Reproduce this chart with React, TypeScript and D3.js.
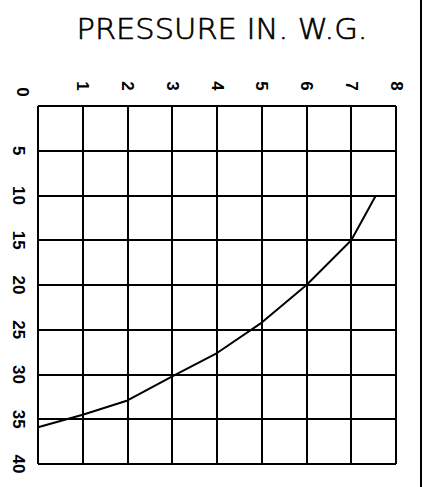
import { useEffect, useRef } from 'react';
import * as d3 from 'd3';

// pressure (in. w.g.) along the top, the other scale runs down the left side
const pressureTicks = [0, 1, 2, 3, 4, 5, 6, 7, 8];
const depthTicks = [0, 5, 10, 15, 20, 25, 30, 35, 40];
const curvePressure = [0, 1, 2, 3, 4, 5, 6, 7, 7.55];
const curveDepth = [35.9, 34.5, 32.9, 30.2, 27.6, 24.2, 20, 15, 10];
const title = 'PRESSURE  IN.  W.G.';

const App = () => {
    const svgRef = useRef<SVGSVGElement>(null);

    useEffect(() => {
        const width = 425
        const height = 487
        const margin = { top: 106, right: 29, bottom: 23, left: 38 }

        d3.select(svgRef.current).selectAll("*").remove();

        const svg = d3.select(svgRef.current)
            .attr("width", width)
            .attr("height", height)
            .style("position", "absolute")
            .style("left", 0)
            .style("top", 0)
            .style("background", "#fff")

        const x = d3.scaleLinear().domain([0, 8]).range([margin.left, width - margin.right])
        const y = d3.scaleLinear().domain([0, 40]).range([margin.top, height - margin.bottom])

        // title, thin monoline look
        svg.append("text")
            .attr("x", 222)
            .attr("y", 39)
            .attr("text-anchor", "middle")
            .attr("font-family", "DejaVu Sans")
            .attr("font-weight", 200)
            .attr("font-size", 28)
            .attr("textLength", 291)
            .attr("lengthAdjust", "spacingAndGlyphs")
            .attr("fill", "#000")
            .attr("stroke", "#000")
            .attr("stroke-width", 0.6)
            .text(title)

        // grid
        const grid = svg.append("g")
            .attr("stroke", "#000")
            .attr("stroke-width", 2)
            .attr("shape-rendering", "crispEdges")
        grid.selectAll("line.v")
            .data(pressureTicks)
            .enter()
            .append("line")
                .attr("class", "v")
                .attr("x1", d => x(d)).attr("x2", d => x(d))
                .attr("y1", y(0)).attr("y2", y(40))
        grid.selectAll("line.h")
            .data(depthTicks)
            .enter()
            .append("line")
                .attr("class", "h")
                .attr("x1", x(0)).attr("x2", x(8))
                .attr("y1", d => y(d)).attr("y2", d => y(d))

        // right border
        svg.append("line")
            .attr("x1", 421).attr("x2", 421)
            .attr("y1", 0).attr("y2", height)
            .attr("stroke", "#000")
            .attr("stroke-width", 2)

        // tick labels, rotated to read top to bottom
        const labelFont = (sel: any) => sel
            .attr("font-family", "Liberation Sans")
            .attr("font-weight", "bold")
            .attr("font-size", 17)
            .attr("text-anchor", "middle")
            .attr("dominant-baseline", "central")
            .attr("fill", "#000")

        svg.append("g").call(labelFont)
            .selectAll("text")
            .data(pressureTicks.slice(1))
            .enter()
            .append("text")
                .attr("transform", d => `translate(${x(d)}, 86) rotate(90)`)
                .text(d => d)

        svg.append("g").call(labelFont)
            .selectAll("text")
            .data(depthTicks.slice(1))
            .enter()
            .append("text")
                .attr("transform", d => `translate(18, ${y(d)}) rotate(90)`)
                .text(d => d)

        // the shared zero in the corner
        svg.append("text").call(labelFont)
            .attr("transform", `translate(${x(0) - 16}, ${y(0) - 14}) rotate(90)`)
            .text(0)

        // curve
        const points = curvePressure.map((p, i) => [p, curveDepth[i]] as [number, number])
        const line = d3.line<[number, number]>()
            .x(d => x(d[0]))
            .y(d => y(d[1]))
        svg.append("path")
            .datum(points)
            .attr("fill", "none")
            .attr("stroke", "#000")
            .attr("stroke-width", 2)
            .attr("stroke-linejoin", "round")
            .attr("d", line)
    }, []);

    return (
        <svg ref={svgRef} />
    );
};

export default App;
